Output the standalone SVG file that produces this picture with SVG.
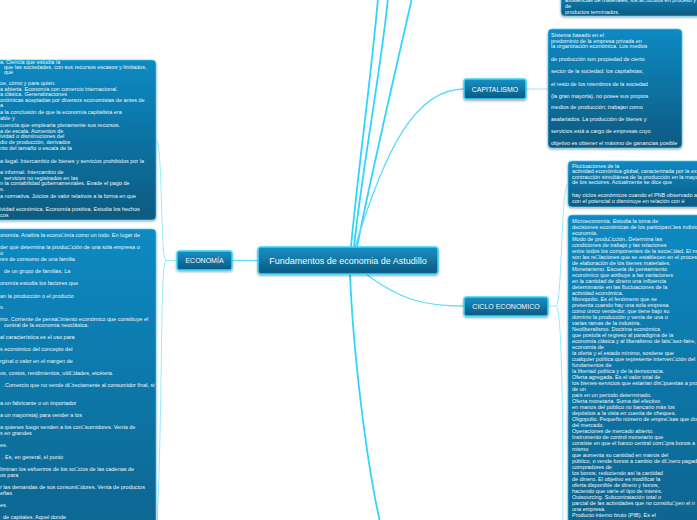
<svg xmlns="http://www.w3.org/2000/svg" width="697" height="520" viewBox="0 0 697 520">
<defs>
<linearGradient id="gNode" x1="0" y1="0" x2="0" y2="1"><stop offset="0" stop-color="#1a90c6"/><stop offset="1" stop-color="#0a5a80"/></linearGradient>
<linearGradient id="gBox" x1="0" y1="0" x2="0" y2="1"><stop offset="0" stop-color="#0c8ac3"/><stop offset="1" stop-color="#085a80"/></linearGradient>
<filter id="sh" x="-10%" y="-10%" width="120%" height="130%"><feDropShadow dx="0" dy="1.2" stdDeviation="0.9" flood-color="#000" flood-opacity="0.35"/></filter>
<style>
.node rect{fill:url(#gNode);stroke:#3ad6fb;stroke-width:1.5;filter:url(#sh)}
.box rect{fill:url(#gBox);stroke:#55cbef;stroke-width:0.7;filter:url(#sh)}
.nt{font-family:"Liberation Sans",Arial,sans-serif;font-size:7px;fill:#f2f9fc;text-anchor:middle}
.ct{font-family:"Liberation Sans",Arial,sans-serif;font-size:9px;fill:#f2f9fc;text-anchor:middle}
.t{font-family:"Liberation Sans","DejaVu Sans",Arial,sans-serif;font-size:5.5px;fill:#edf6fa}
.c{fill:none;stroke:#33d4fa;stroke-width:1.8}
.c2{fill:none;stroke:#5fdcfa;stroke-width:1.3}
.s{fill:none;stroke:#8fe6fb;stroke-width:0.9}
</style>
</defs>
<g id="connectors">
<path class="c" d="M351,247 C358,170 372,70 378,-2"/>
<path class="c" d="M354,247 C362,170 381,70 388,-2"/>
<path class="c" d="M357,247 C372,170 398,60 412,-2"/>
<path class="c2" d="M355,247 C385,150 415,89 464,89"/>
<path class="c2" d="M258,260.5 L232,260.5"/>
<path class="c2" d="M366,274 C400,300 425,306 464,306"/>
<path class="c" d="M350,274 C353,350 366,460 380,522"/>
<path class="s" d="M526,89 L548,89"/>
<path class="s" d="M177,260.5 L166,260.5 M166,260.5 C160,260 163,140 156,140 M166,260.5 C160,261 163,400 157,525"/>
<path class="s" d="M548,306 L556,306 M556,306 C562,306 561,184 568,184 M556,306 C562,306 563,420 563,525"/>
</g>
<g id="central" class="node"><rect x="258" y="247" width="180" height="27" rx="3"/><text class="ct" x="348" y="264">Fundamentos de economia de Astudillo</text></g>
<g id="economia" class="node"><rect x="177" y="251" width="55" height="19" rx="2.5"/><text class="nt" x="204.5" y="263">ECONOMÍA</text></g>
<g id="capitalismo" class="node"><rect x="464" y="79" width="62" height="20" rx="2.5"/><text class="nt" x="495" y="91.5">CAPITALISMO</text></g>
<g id="ciclo" class="node"><rect x="464" y="297" width="84" height="19" rx="2.5"/><text class="nt" x="506" y="309">CICLO ECONOMICO</text></g>
<g id="box-top" class="box"><rect x="561" y="-10" width="150" height="26" rx="4"/>
<text class="t" x="565" y="1.5">Existencias de materiales, los ar□tículos en proceso y</text>
<text class="t" x="565" y="8">de</text>
<text class="t" x="565" y="14">productos terminados.</text></g>
<g id="box-capitalismo" class="box"><rect x="548" y="29" width="134" height="119" rx="4"/>
<text class="t" x="551" y="37">Sistema basado en el</text>
<text class="t" x="551" y="42.7">predominio de la empresa privada en</text>
<text class="t" x="551" y="48.4">la organización económica. Los medios</text>
<text class="t" x="551" y="60.5">de producción son propiedad de cierto</text>
<text class="t" x="551" y="73">sector de la sociedad: los capitalistas;</text>
<text class="t" x="551" y="85.5">el resto de los miembros de la sociedad</text>
<text class="t" x="551" y="97.5">(la gran mayoría), no posee sus propios</text>
<text class="t" x="551" y="109.3">medios de producción; trabajan como</text>
<text class="t" x="551" y="121">asalariados. La producción de bienes y</text>
<text class="t" x="551" y="133">servicios está a cargo de empresas cuyo</text>
<text class="t" x="551" y="145">objetivo es obtener el máximo de ganancias posible</text></g>
<g id="box-fluctuaciones" class="box"><rect x="568" y="161" width="140" height="46" rx="4"/>
<text class="t" x="572" y="167.5">Fluctuaciones de la</text>
<text class="t" x="572" y="173">actividad económica global, caracterizada por la ex</text>
<text class="t" x="572" y="178.5">contracción simultánea de la producción en la mayo</text>
<text class="t" x="572" y="184">de los sectores. Actualmente se dice que</text>
<text class="t" x="572" y="197">hay ciclos económicos cuando el PNB observado a</text>
<text class="t" x="572" y="202.5">con el potencial o disminuye en relación con é</text></g>
<g id="box-ciclo" class="box"><rect x="568" y="215" width="140" height="400" rx="4"/>
<text class="t" x="572" y="223">Microeconomía. Estudia la toma de</text>
<text class="t" x="572" y="229">decisiones económicas de los participan□tes individ</text>
<text class="t" x="572" y="235">economía.</text>
<text class="t" x="572" y="241">Modo de produ□cción. Determina las</text>
<text class="t" x="572" y="247">condiciones de trabajo y las relaciones</text>
<text class="t" x="572" y="253">entre todos los componentes de la socie□dad. El m</text>
<text class="t" x="572" y="259">son las re□laciones que se establecen en el proces</text>
<text class="t" x="572" y="265">de elaboración de los bienes materiales.</text>
<text class="t" x="572" y="271">Monetarismo. Escuela de pensamiento</text>
<text class="t" x="572" y="277">económico que atribuye a las variaciones</text>
<text class="t" x="572" y="283">en la cantidad de dinero una influencia</text>
<text class="t" x="572" y="289">determinante en las fluctuaciones de la</text>
<text class="t" x="572" y="295">actividad económica.</text>
<text class="t" x="572" y="301">Monopolio. Es el fenómeno que se</text>
<text class="t" x="572" y="307">presenta cuando hay una sola empresa</text>
<text class="t" x="572" y="313">como único vendedor, que tiene bajo su</text>
<text class="t" x="572" y="319">dominio la producción y venta de una o</text>
<text class="t" x="572" y="325">varias ramas de la industria.</text>
<text class="t" x="572" y="331">Neoliberalismo. Doctrina económica</text>
<text class="t" x="572" y="337">que postula el regreso al paradigma de la</text>
<text class="t" x="572" y="343">economía clásica y al liberalismo de lais□sez-faire,</text>
<text class="t" x="572" y="349">economía de</text>
<text class="t" x="572" y="355">la oferta y el estado mínimo, sostiene que</text>
<text class="t" x="572" y="361">cualquier política que represente interven□ción del</text>
<text class="t" x="572" y="367">fundamentos de</text>
<text class="t" x="572" y="373">la libertad política y de la democracia.</text>
<text class="t" x="572" y="379">Oferta agregada. Es el valor total de</text>
<text class="t" x="572" y="385">los bienes-servicios que estarían dis□puestas a pro</text>
<text class="t" x="572" y="391">de un</text>
<text class="t" x="572" y="397">país en un período determinado.</text>
<text class="t" x="572" y="403">Oferta monetaria. Suma del efectivo</text>
<text class="t" x="572" y="409">en manos del público no bancario más los</text>
<text class="t" x="572" y="415">depósitos a la vista en cuenta de cheques.</text>
<text class="t" x="572" y="421">Oligopolio. Pequeño número de empre□sas que do</text>
<text class="t" x="572" y="427">del mercado.</text>
<text class="t" x="572" y="433">Operaciones de mercado abierto.</text>
<text class="t" x="572" y="439">Instrumento de control monetario que</text>
<text class="t" x="572" y="445">consiste en que el banco central com□pra bonos a</text>
<text class="t" x="572" y="451">mismo</text>
<text class="t" x="572" y="457">que aumenta su cantidad en manos del</text>
<text class="t" x="572" y="463">público, o vende bonos a cambio de di□nero pagad</text>
<text class="t" x="572" y="469">compradores de</text>
<text class="t" x="572" y="475">los bonos, reduciendo así la cantidad</text>
<text class="t" x="572" y="481">de dinero. El objetivo es modificar la</text>
<text class="t" x="572" y="487">oferta disponible de dinero y bonos,</text>
<text class="t" x="572" y="493">haciendo que varíe el tipo de interés.</text>
<text class="t" x="572" y="499">Outsourcing. Subcontratación total o</text>
<text class="t" x="572" y="505">parcial de las actividades que no constitu□yen el n</text>
<text class="t" x="572" y="511">una empresa.</text>
<text class="t" x="572" y="517">Producto interno bruto (PIB). Es el</text></g>
<g id="box-economia-1" class="box"><rect x="-10" y="60" width="166" height="160" rx="4"/>
<text class="t" x="0" y="64">a. Ciencia que estudia la</text>
<text class="t" x="4" y="69">que las sociedades, con sus recursos escasos y limitados,</text>
<text class="t" x="4" y="74">qué</text>
<text class="t" x="0" y="85">ce, cómo y para quién.</text>
<text class="t" x="0" y="90.5">a abierta. Economía con comercio internacional.</text>
<text class="t" x="0" y="96">a clásica. Generalizaciones</text>
<text class="t" x="0" y="101.5">onómicas aceptadas por diversos economistas de antes de</text>
<text class="t" x="0" y="107">a</text>
<text class="t" x="0" y="114">a la conclusión de que la economía capitalista era</text>
<text class="t" x="0" y="119.5">able y</text>
<text class="t" x="0" y="126.5">cuencia que emplearía plenamente sus recursos.</text>
<text class="t" x="0" y="132.5">a de escala. Aumentos de</text>
<text class="t" x="0" y="138">ividad o disminuciones del</text>
<text class="t" x="0" y="144">dio de producción, derivados</text>
<text class="t" x="0" y="150">nto del tamaño o escala de la</text>
<text class="t" x="0" y="162.5">a ilegal. Intercambio de bienes y servicios prohibidos por la</text>
<text class="t" x="0" y="174">a informal. Intercambio de</text>
<text class="t" x="4" y="179.5">servicios no registrados en las</text>
<text class="t" x="0" y="185">n la contabilidad gubernamentales. Evade el pago de</text>
<text class="t" x="0" y="191">s.</text>
<text class="t" x="0" y="198">a normativa. Juicios de valor relativos a la forma en que</text>
<text class="t" x="0" y="210.5">ividad económica. Economía positiva. Estudia los hechos</text>
<text class="t" x="0" y="216.5">cos</text></g>
<g id="box-economia-2" class="box"><rect x="-10" y="229" width="166" height="400" rx="4"/>
<text class="t" x="0" y="237">onomía. Analiza la econo□mía como un todo. En lugar de</text>
<text class="t" x="0" y="249">der qué determina la produc□ción de una sola empresa o</text>
<text class="t" x="0" y="254.7">o</text>
<text class="t" x="0" y="261">res de consumo de una familia</text>
<text class="t" x="4" y="273">de un grupo de familias. La</text>
<text class="t" x="0" y="285">onomía estudia los factores que</text>
<text class="t" x="0" y="297.5">an la producción o el producto</text>
<text class="t" x="0" y="309">s.</text>
<text class="t" x="0" y="321">mo. Corriente de pensa□miento económico que constituye el</text>
<text class="t" x="4" y="326.5">central de la economía neoclásica.</text>
<text class="t" x="0" y="339">al característica es el uso para</text>
<text class="t" x="0" y="351">s económico del concepto del</text>
<text class="t" x="0" y="363">rginal o valor en el margen de</text>
<text class="t" x="0" y="375">os, costos, rendimientos, utili□dades, etcétera.</text>
<text class="t" x="2" y="387">. Comercio que no vende di□rectamente al consumidor final, si</text>
<text class="t" x="0" y="405.3">a un fabricante o un importador</text>
<text class="t" x="0" y="417">a un mayorista) para vender a los</text>
<text class="t" x="0" y="429.3">a quienes luego venden a los con□sumidores. Venta de</text>
<text class="t" x="0" y="435.3">s en grandes</text>
<text class="t" x="0" y="447">es.</text>
<text class="t" x="2" y="459.3">. Es, en general, el punto</text>
<text class="t" x="0" y="471.3">liminan los esfuerzos de los so□cios de las cadenas de</text>
<text class="t" x="0" y="476.7">os para</text>
<text class="t" x="0" y="489.3">r las demandas de sus consumi□dores. Venta de productos</text>
<text class="t" x="0" y="494.7">eñas</text>
<text class="t" x="0" y="507">es.</text>
<text class="t" x="3" y="518.7">de capitales. Aquel donde</text></g>
</svg>
